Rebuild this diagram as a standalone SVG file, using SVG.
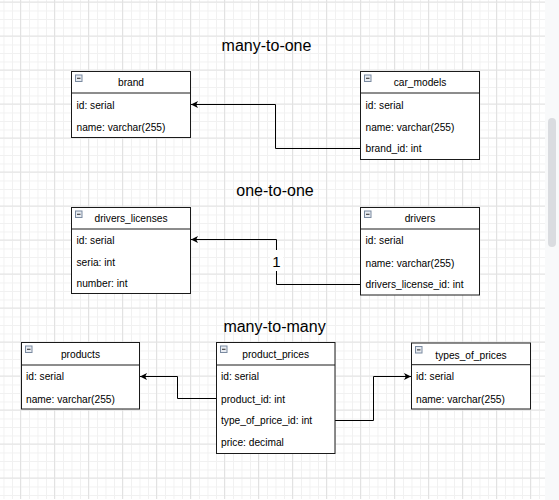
<svg xmlns="http://www.w3.org/2000/svg" width="559" height="500" viewBox="0 0 559 500">
<defs>
<pattern id="minor" patternUnits="userSpaceOnUse" x="3.5" y="2" width="8.5" height="8.5">
<path d="M0,0.5 H8.5 M0.5,0 V8.5" stroke="#f1f1f1" stroke-width="1" fill="none"/>
</pattern>
<pattern id="major" patternUnits="userSpaceOnUse" x="20" y="35.5" width="34" height="34">
<path d="M0,0.5 H34 M0.5,0 V34" stroke="#e2e2e2" stroke-width="1" fill="none"/>
</pattern>
<marker id="arr" markerUnits="userSpaceOnUse" markerWidth="10" markerHeight="10" refX="7" refY="4" orient="auto">
<path d="M0,0.5 L7,4 L0,7.5 L1.8,4 Z" fill="#000"/>
</marker>
<g id="icon">
<rect x="0.5" y="0.5" width="6.5" height="6.5" fill="#e8ecf2" stroke="#7a8aa0" stroke-width="1"/>
<rect x="2" y="3.2" width="3.5" height="1.3" fill="#555"/>
</g>
</defs>
<style>
.box{fill:#fff;stroke:#1a1a1a;stroke-width:1}
.sep{stroke:#1a1a1a;stroke-width:1}
.hd{font-family:"Liberation Sans",Arial,sans-serif;font-size:10.2px;fill:#000;text-anchor:middle}
.row{font-family:"Liberation Sans",Arial,sans-serif;font-size:10.2px;fill:#000}
.title{font-family:"Liberation Sans",Arial,sans-serif;font-size:16px;fill:#000;text-anchor:middle}
.edge{fill:none;stroke:#000;stroke-width:1}
</style>
<rect x="0" y="0" width="559" height="500" fill="#fff"/>
<rect x="0" y="0" width="545" height="499" fill="url(#minor)"/>
<rect x="0" y="0" width="545" height="499" fill="url(#major)"/>
<rect x="545" y="0" width="14" height="500" fill="#f8f9fa"/>
<rect x="548" y="118" width="8" height="129" rx="4" fill="#dadce0"/>

<text class="title" x="266.5" y="50.5">many-to-one</text>
<text class="title" x="275" y="195.5">one-to-one</text>
<text class="title" x="274.5" y="332">many-to-many</text>

<g id="connectors">
<path class="edge" d="M360.5,148.5 H275.5 V104.5 H191" marker-end="url(#arr)"/>
<path class="edge" d="M360.5,284.5 H276.5 V239.5 H191" marker-end="url(#arr)"/>
<rect x="270" y="250" width="13" height="21" fill="#fff"/>
<text x="276.5" y="266.5" font-family="Liberation Sans, Arial, sans-serif" font-size="15" text-anchor="middle" fill="#000">1</text>
<path class="edge" d="M216.5,398.5 H177.5 V376.5 H140" marker-end="url(#arr)"/>
<path class="edge" d="M335,420.5 H373.5 V376.5 H411" marker-end="url(#arr)"/>
</g>

<g id="brand">
<rect class="box" x="71.5" y="71.5" width="119" height="66"/>
<line class="sep" x1="71.5" y1="93" x2="190.5" y2="93"/>
<use href="#icon" x="75" y="74.5"/>
<text class="hd" x="131" y="86.3">brand</text>
<text class="row" x="76.5" y="108.6">id: serial</text>
<text class="row" x="76.5" y="131">name: varchar(255)</text>
</g>

<g id="car_models">
<rect class="box" x="360.5" y="71.5" width="119" height="88"/>
<line class="sep" x1="360.5" y1="93" x2="479.5" y2="93"/>
<use href="#icon" x="364" y="74.5"/>
<text class="hd" x="420" y="86.3">car_models</text>
<text class="row" x="365.5" y="108.6">id: serial</text>
<text class="row" x="365.5" y="130.8">name: varchar(255)</text>
<text class="row" x="365.5" y="152">brand_id: int</text>
</g>

<g id="drivers_licenses">
<rect class="box" x="71.5" y="207.5" width="119" height="86"/>
<line class="sep" x1="71.5" y1="229" x2="190.5" y2="229"/>
<use href="#icon" x="75" y="210.5"/>
<text class="hd" x="131" y="222.2">drivers_licenses</text>
<text class="row" x="76.5" y="244.3">id: serial</text>
<text class="row" x="76.5" y="265.5">seria: int</text>
<text class="row" x="76.5" y="287.3">number: int</text>
</g>

<g id="drivers">
<rect class="box" x="360.5" y="207.5" width="119" height="87.5"/>
<line class="sep" x1="360.5" y1="229" x2="479.5" y2="229"/>
<use href="#icon" x="364" y="210.5"/>
<text class="hd" x="420" y="222.2">drivers</text>
<text class="row" x="365.5" y="244.3">id: serial</text>
<text class="row" x="365.5" y="266.8">name: varchar(255)</text>
<text class="row" x="365.5" y="288.3">drivers_license_id: int</text>
</g>

<g id="products">
<rect class="box" x="21.5" y="342.5" width="118" height="66.5"/>
<line class="sep" x1="21.5" y1="365" x2="139.5" y2="365"/>
<use href="#icon" x="25" y="345.5"/>
<text class="hd" x="80.5" y="357.8">products</text>
<text class="row" x="26" y="380.3">id: serial</text>
<text class="row" x="26" y="402.9">name: varchar(255)</text>
</g>

<g id="product_prices">
<rect class="box" x="216.5" y="342.5" width="118.5" height="111"/>
<line class="sep" x1="216.5" y1="365" x2="335" y2="365"/>
<use href="#icon" x="220" y="345.5"/>
<text class="hd" x="275.7" y="357.8">product_prices</text>
<text class="row" x="221" y="380.3">id: serial</text>
<text class="row" x="221" y="402.6">product_id: int</text>
<text class="row" x="221" y="424.3">type_of_price_id: int</text>
<text class="row" x="221" y="446.3">price: decimal</text>
</g>

<g id="types_of_prices">
<rect class="box" x="411.5" y="343" width="119" height="66"/>
<line class="sep" x1="411.5" y1="364.7" x2="530.5" y2="364.7"/>
<use href="#icon" x="415" y="346"/>
<text class="hd" x="471" y="358.5">types_of_prices</text>
<text class="row" x="416" y="380.3">id: serial</text>
<text class="row" x="416" y="402.9">name: varchar(255)</text>
</g>
</svg>
